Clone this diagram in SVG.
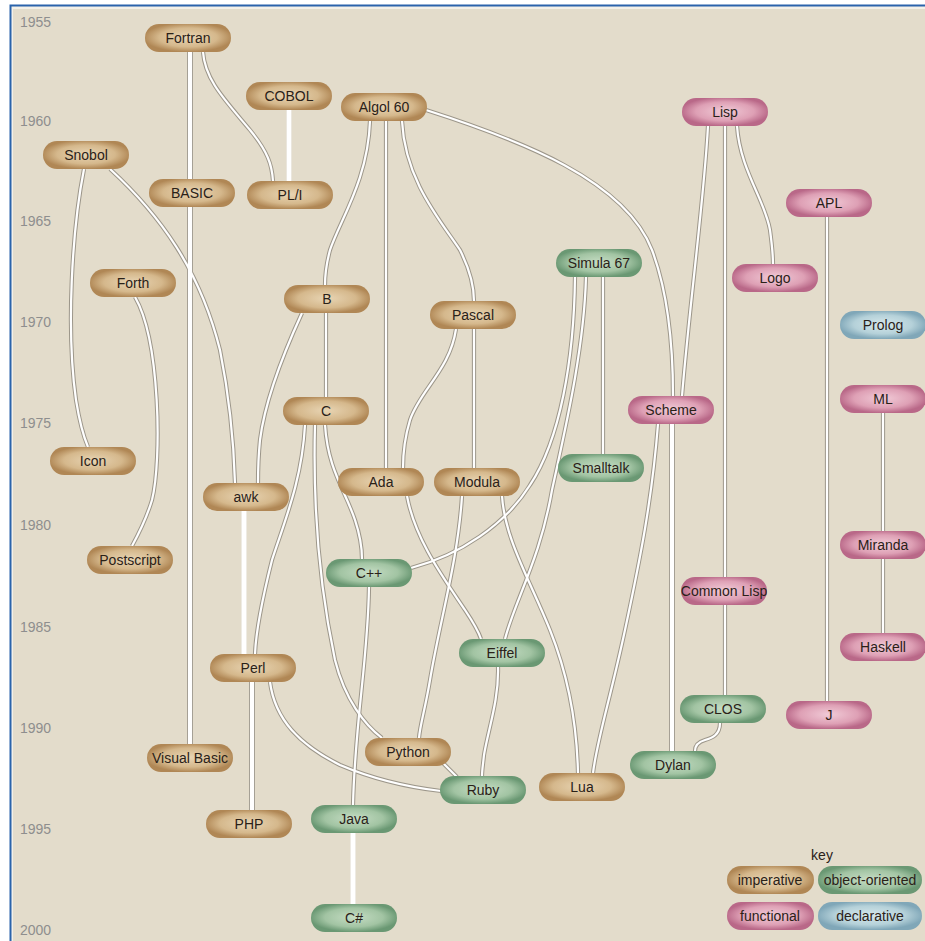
<svg xmlns="http://www.w3.org/2000/svg" xmlns:xlink="http://www.w3.org/1999/xlink" width="925" height="941" viewBox="0 0 925 941">
<defs>
<radialGradient id="gImp" cx="50%" cy="48%" r="52%"><stop offset="0%" stop-color="#e8d5b4"/><stop offset="65%" stop-color="#d5b88c"/><stop offset="100%" stop-color="#b08755"/></radialGradient>
<radialGradient id="gOO" cx="50%" cy="48%" r="52%"><stop offset="0%" stop-color="#c6ddc4"/><stop offset="65%" stop-color="#a2c4a3"/><stop offset="100%" stop-color="#6a9873"/></radialGradient>
<radialGradient id="gFn" cx="50%" cy="48%" r="52%"><stop offset="0%" stop-color="#f1cbd7"/><stop offset="65%" stop-color="#dea0b5"/><stop offset="100%" stop-color="#b96888"/></radialGradient>
<radialGradient id="gDec" cx="50%" cy="48%" r="52%"><stop offset="0%" stop-color="#d6e8ec"/><stop offset="65%" stop-color="#b5d1d9"/><stop offset="100%" stop-color="#80a7b8"/></radialGradient>
<style>
.imp{fill:url(#gImp)}
.oo{fill:url(#gOO)}
.fn{fill:url(#gFn)}
.dec{fill:url(#gDec)}
text{font-family:"Liberation Sans",Arial,sans-serif}
.lbl{font-size:14px;fill:#2a2118;text-anchor:middle}
.yr{font-size:14px;fill:#8e8e8e}
.casing use{fill:none;stroke:#9c968a;stroke-width:4.2}
.core use{fill:none;stroke:#ffffff;stroke-width:2.2}
.casing use.thick{stroke-width:6}
.core use.thick{stroke-width:4.2}
.casing use.wide{stroke:#e8e4da;stroke-width:6}
.core use.wide{stroke-width:4.5}
</style>
<path id="c1" d="M190,52 L190,179"/>
<path id="c2" d="M190,207 L190,744"/>
<path id="c3" d="M203,52 C205,80 225,100 250,130 C268,152 272,165 273,181"/>
<path id="c4" d="M289,110 L289,181"/>
<path id="c5" d="M84,169 C72,230 66,330 76,400 C80,425 85,440 88,447"/>
<path id="c6" d="M110,169 C160,215 200,270 220,350 C230,400 234,450 235,483"/>
<path id="c7" d="M135,297 C160,340 162,460 152,500 C146,520 138,535 132,546"/>
<path id="c8" d="M370,121 C368,180 340,220 330,250 C326,265 325,275 325,285"/>
<path id="c9" d="M386,121 L386,468"/>
<path id="c10" d="M402,121 C405,180 440,220 460,250 C470,270 474,285 474,301"/>
<path id="c11" d="M426,110 C520,140 625,180 652,250 C667,290 673,340 673,396"/>
<path id="c12" d="M708,126 C704,200 690,300 682,396"/>
<path id="c13" d="M672,424 L672,751"/>
<path id="c14" d="M725,126 L725,577"/>
<path id="c15" d="M737,126 C740,170 765,200 770,230 C772,245 773,255 773,264"/>
<path id="c16" d="M827,217 L827,701"/>
<path id="c17" d="M326,313 L326,397"/>
<path id="c18" d="M302,313 C285,350 265,400 260,440 C258,460 258,475 258,483"/>
<path id="c19" d="M474,329 L474,468"/>
<path id="c20" d="M456,329 C450,370 420,390 410,420 C404,440 403,455 403,468"/>
<path id="c21" d="M325,425 C328,470 345,490 355,520 C360,535 362,550 362,559"/>
<path id="c22" d="M305,425 C302,480 285,520 272,560 C262,600 256,630 255,654"/>
<path id="c23" d="M315,425 C313,500 318,580 335,660 C345,700 365,725 382,738"/>
<path id="c24" d="M369,587 C368,660 355,720 353,805"/>
<path id="c25" d="M407,496 C415,540 445,580 465,610 C473,622 478,630 481,639"/>
<path id="c26" d="M462,496 C458,560 440,620 430,680 C425,710 420,725 419,738"/>
<path id="c27" d="M502,496 C505,540 530,580 550,630 C570,680 577,730 578,773"/>
<path id="c28" d="M586,277 C584,350 565,430 552,490 C540,560 515,600 505,639"/>
<path id="c29" d="M575,277 C574,360 560,440 530,485 C505,525 460,555 411,568"/>
<path id="c30" d="M603,277 L603,454"/>
<path id="c31" d="M658,424 C652,500 640,560 625,630 C610,700 597,740 593,773"/>
<path id="c32" d="M725,605 L725,695"/>
<path id="c33" d="M720,723 C720,735 712,738 705,740 C698,742 695,746 695,751"/>
<path id="c34" d="M883,413 L883,531"/>
<path id="c35" d="M883,559 L883,633"/>
<path id="c36" d="M498,667 C499,700 488,730 484,755 C483,765 482,770 482,776"/>
<path id="c37" d="M252,682 L252,810"/>
<path id="c38" d="M244,511 L244,654"/>
<path id="c39" d="M270,682 C275,720 300,745 340,765 C380,782 415,788 441,791"/>
<path id="c40" d="M443,763 L457,777"/>
<path id="c41" d="M353,833 L353,904"/>
</defs>

<rect x="0" y="0" width="925" height="941" fill="#ffffff"/>
<rect x="10.5" y="5.5" width="920" height="940" fill="#f3f0e8" stroke="#2a63ab" stroke-width="2"/>
<rect x="13" y="9" width="912" height="932" fill="#e3dccb"/>

<g id="years">
<text class="yr" x="20" y="27">1955</text>
<text class="yr" x="20" y="126">1960</text>
<text class="yr" x="20" y="226">1965</text>
<text class="yr" x="20" y="327">1970</text>
<text class="yr" x="20" y="428">1975</text>
<text class="yr" x="20" y="530">1980</text>
<text class="yr" x="20" y="632">1985</text>
<text class="yr" x="20" y="733">1990</text>
<text class="yr" x="20" y="834">1995</text>
<text class="yr" x="20" y="935">2000</text>
</g>

<g id="connectors">
<g class="casing">
<use href="#c1" class="thick"/><use href="#c2" class="thick"/><use href="#c3"/><use href="#c4" class="wide"/><use href="#c5"/><use href="#c6"/><use href="#c7"/><use href="#c8"/><use href="#c9"/><use href="#c10"/><use href="#c11"/><use href="#c12"/><use href="#c13" class="thick"/><use href="#c14"/><use href="#c15"/><use href="#c16"/><use href="#c17"/><use href="#c18"/><use href="#c19"/><use href="#c20"/><use href="#c21"/><use href="#c22"/><use href="#c23"/><use href="#c24"/><use href="#c25"/><use href="#c26"/><use href="#c27"/><use href="#c28"/><use href="#c29"/><use href="#c30"/><use href="#c31"/><use href="#c32"/><use href="#c33"/><use href="#c34"/><use href="#c35"/><use href="#c36"/><use href="#c37" class="thick"/><use href="#c38" class="wide"/><use href="#c39"/><use href="#c40"/><use href="#c41" class="wide"/>
</g>
<g class="core">
<use href="#c1" class="thick"/><use href="#c2" class="thick"/><use href="#c3"/><use href="#c4" class="thick"/><use href="#c5"/><use href="#c6"/><use href="#c7"/><use href="#c8"/><use href="#c9"/><use href="#c10"/><use href="#c11"/><use href="#c12"/><use href="#c13" class="thick"/><use href="#c14"/><use href="#c15"/><use href="#c16"/><use href="#c17"/><use href="#c18"/><use href="#c19"/><use href="#c20"/><use href="#c21"/><use href="#c22"/><use href="#c23"/><use href="#c24"/><use href="#c25"/><use href="#c26"/><use href="#c27"/><use href="#c28"/><use href="#c29"/><use href="#c30"/><use href="#c31"/><use href="#c32"/><use href="#c33"/><use href="#c34"/><use href="#c35"/><use href="#c36"/><use href="#c37" class="thick"/><use href="#c38" class="wide"/><use href="#c39"/><use href="#c40"/><use href="#c41" class="wide"/>
</g>
</g>

<g id="nodes">
<g id="n-fortran"><rect class="imp" x="145" y="24" width="86" height="28" rx="14"/><text class="lbl" x="188" y="43">Fortran</text></g>
<g id="n-cobol"><rect class="imp" x="246" y="82" width="86" height="28" rx="14"/><text class="lbl" x="289" y="101">COBOL</text></g>
<g id="n-algol60"><rect class="imp" x="341" y="93" width="86" height="28" rx="14"/><text class="lbl" x="384" y="112">Algol 60</text></g>
<g id="n-lisp"><rect class="fn" x="682" y="98" width="86" height="28" rx="14"/><text class="lbl" x="725" y="117">Lisp</text></g>
<g id="n-snobol"><rect class="imp" x="43" y="141" width="86" height="28" rx="14"/><text class="lbl" x="86" y="160">Snobol</text></g>
<g id="n-basic"><rect class="imp" x="149" y="179" width="86" height="28" rx="14"/><text class="lbl" x="192" y="198">BASIC</text></g>
<g id="n-pli"><rect class="imp" x="247" y="181" width="86" height="28" rx="14"/><text class="lbl" x="290" y="200">PL/I</text></g>
<g id="n-apl"><rect class="fn" x="786" y="189" width="86" height="28" rx="14"/><text class="lbl" x="829" y="208">APL</text></g>
<g id="n-simula67"><rect class="oo" x="556" y="249" width="86" height="28" rx="14"/><text class="lbl" x="599" y="268">Simula 67</text></g>
<g id="n-logo"><rect class="fn" x="732" y="264" width="86" height="28" rx="14"/><text class="lbl" x="775" y="283">Logo</text></g>
<g id="n-forth"><rect class="imp" x="90" y="269" width="86" height="28" rx="14"/><text class="lbl" x="133" y="288">Forth</text></g>
<g id="n-b"><rect class="imp" x="284" y="285" width="86" height="28" rx="14"/><text class="lbl" x="327" y="304">B</text></g>
<g id="n-pascal"><rect class="imp" x="430" y="301" width="86" height="28" rx="14"/><text class="lbl" x="473" y="320">Pascal</text></g>
<g id="n-prolog"><rect class="dec" x="840" y="311" width="86" height="28" rx="14"/><text class="lbl" x="883" y="330">Prolog</text></g>
<g id="n-ml"><rect class="fn" x="840" y="385" width="86" height="28" rx="14"/><text class="lbl" x="883" y="404">ML</text></g>
<g id="n-scheme"><rect class="fn" x="628" y="396" width="86" height="28" rx="14"/><text class="lbl" x="671" y="415">Scheme</text></g>
<g id="n-c"><rect class="imp" x="283" y="397" width="86" height="28" rx="14"/><text class="lbl" x="326" y="416">C</text></g>
<g id="n-icon"><rect class="imp" x="50" y="447" width="86" height="28" rx="14"/><text class="lbl" x="93" y="466">Icon</text></g>
<g id="n-smalltalk"><rect class="oo" x="558" y="454" width="86" height="28" rx="14"/><text class="lbl" x="601" y="473">Smalltalk</text></g>
<g id="n-ada"><rect class="imp" x="338" y="468" width="86" height="28" rx="14"/><text class="lbl" x="381" y="487">Ada</text></g>
<g id="n-modula"><rect class="imp" x="434" y="468" width="86" height="28" rx="14"/><text class="lbl" x="477" y="487">Modula</text></g>
<g id="n-awk"><rect class="imp" x="203" y="483" width="86" height="28" rx="14"/><text class="lbl" x="246" y="502">awk</text></g>
<g id="n-postscript"><rect class="imp" x="87" y="546" width="86" height="28" rx="14"/><text class="lbl" x="130" y="565">Postscript</text></g>
<g id="n-miranda"><rect class="fn" x="840" y="531" width="86" height="28" rx="14"/><text class="lbl" x="883" y="550">Miranda</text></g>
<g id="n-cpp"><rect class="oo" x="326" y="559" width="86" height="28" rx="14"/><text class="lbl" x="369" y="578">C++</text></g>
<g id="n-commonlisp"><rect class="fn" x="681" y="577" width="86" height="28" rx="14"/><text class="lbl" x="724" y="596">Common Lisp</text></g>
<g id="n-eiffel"><rect class="oo" x="459" y="639" width="86" height="28" rx="14"/><text class="lbl" x="502" y="658">Eiffel</text></g>
<g id="n-haskell"><rect class="fn" x="840" y="633" width="86" height="28" rx="14"/><text class="lbl" x="883" y="652">Haskell</text></g>
<g id="n-perl"><rect class="imp" x="210" y="654" width="86" height="28" rx="14"/><text class="lbl" x="253" y="673">Perl</text></g>
<g id="n-clos"><rect class="oo" x="680" y="695" width="86" height="28" rx="14"/><text class="lbl" x="723" y="714">CLOS</text></g>
<g id="n-j"><rect class="fn" x="786" y="701" width="86" height="28" rx="14"/><text class="lbl" x="829" y="720">J</text></g>
<g id="n-visualbasic"><rect class="imp" x="147" y="744" width="86" height="28" rx="14"/><text class="lbl" x="190" y="763">Visual Basic</text></g>
<g id="n-python"><rect class="imp" x="365" y="738" width="86" height="28" rx="14"/><text class="lbl" x="408" y="757">Python</text></g>
<g id="n-dylan"><rect class="oo" x="630" y="751" width="86" height="28" rx="14"/><text class="lbl" x="673" y="770">Dylan</text></g>
<g id="n-lua"><rect class="imp" x="539" y="773" width="86" height="28" rx="14"/><text class="lbl" x="582" y="792">Lua</text></g>
<g id="n-ruby"><rect class="oo" x="440" y="776" width="86" height="28" rx="14"/><text class="lbl" x="483" y="795">Ruby</text></g>
<g id="n-php"><rect class="imp" x="206" y="810" width="86" height="28" rx="14"/><text class="lbl" x="249" y="829">PHP</text></g>
<g id="n-java"><rect class="oo" x="311" y="805" width="86" height="28" rx="14"/><text class="lbl" x="354" y="824">Java</text></g>
<g id="n-csharp"><rect class="oo" x="311" y="904" width="86" height="28" rx="14"/><text class="lbl" x="354" y="923">C#</text></g>
</g>

<g id="key">
<text class="lbl" x="822" y="860">key</text>
<g id="key-imperative"><rect class="imp" x="727" y="866" width="87" height="28" rx="14"/><text class="lbl" x="770" y="885">imperative</text></g>
<g id="key-oo"><rect class="oo" x="818" y="866" width="104" height="28" rx="14"/><text class="lbl" x="870" y="885">object-oriented</text></g>
<g id="key-functional"><rect class="fn" x="727" y="902" width="87" height="28" rx="14"/><text class="lbl" x="770" y="921">functional</text></g>
<g id="key-declarative"><rect class="dec" x="818" y="902" width="104" height="28" rx="14"/><text class="lbl" x="870" y="921">declarative</text></g>
</g>
</svg>
